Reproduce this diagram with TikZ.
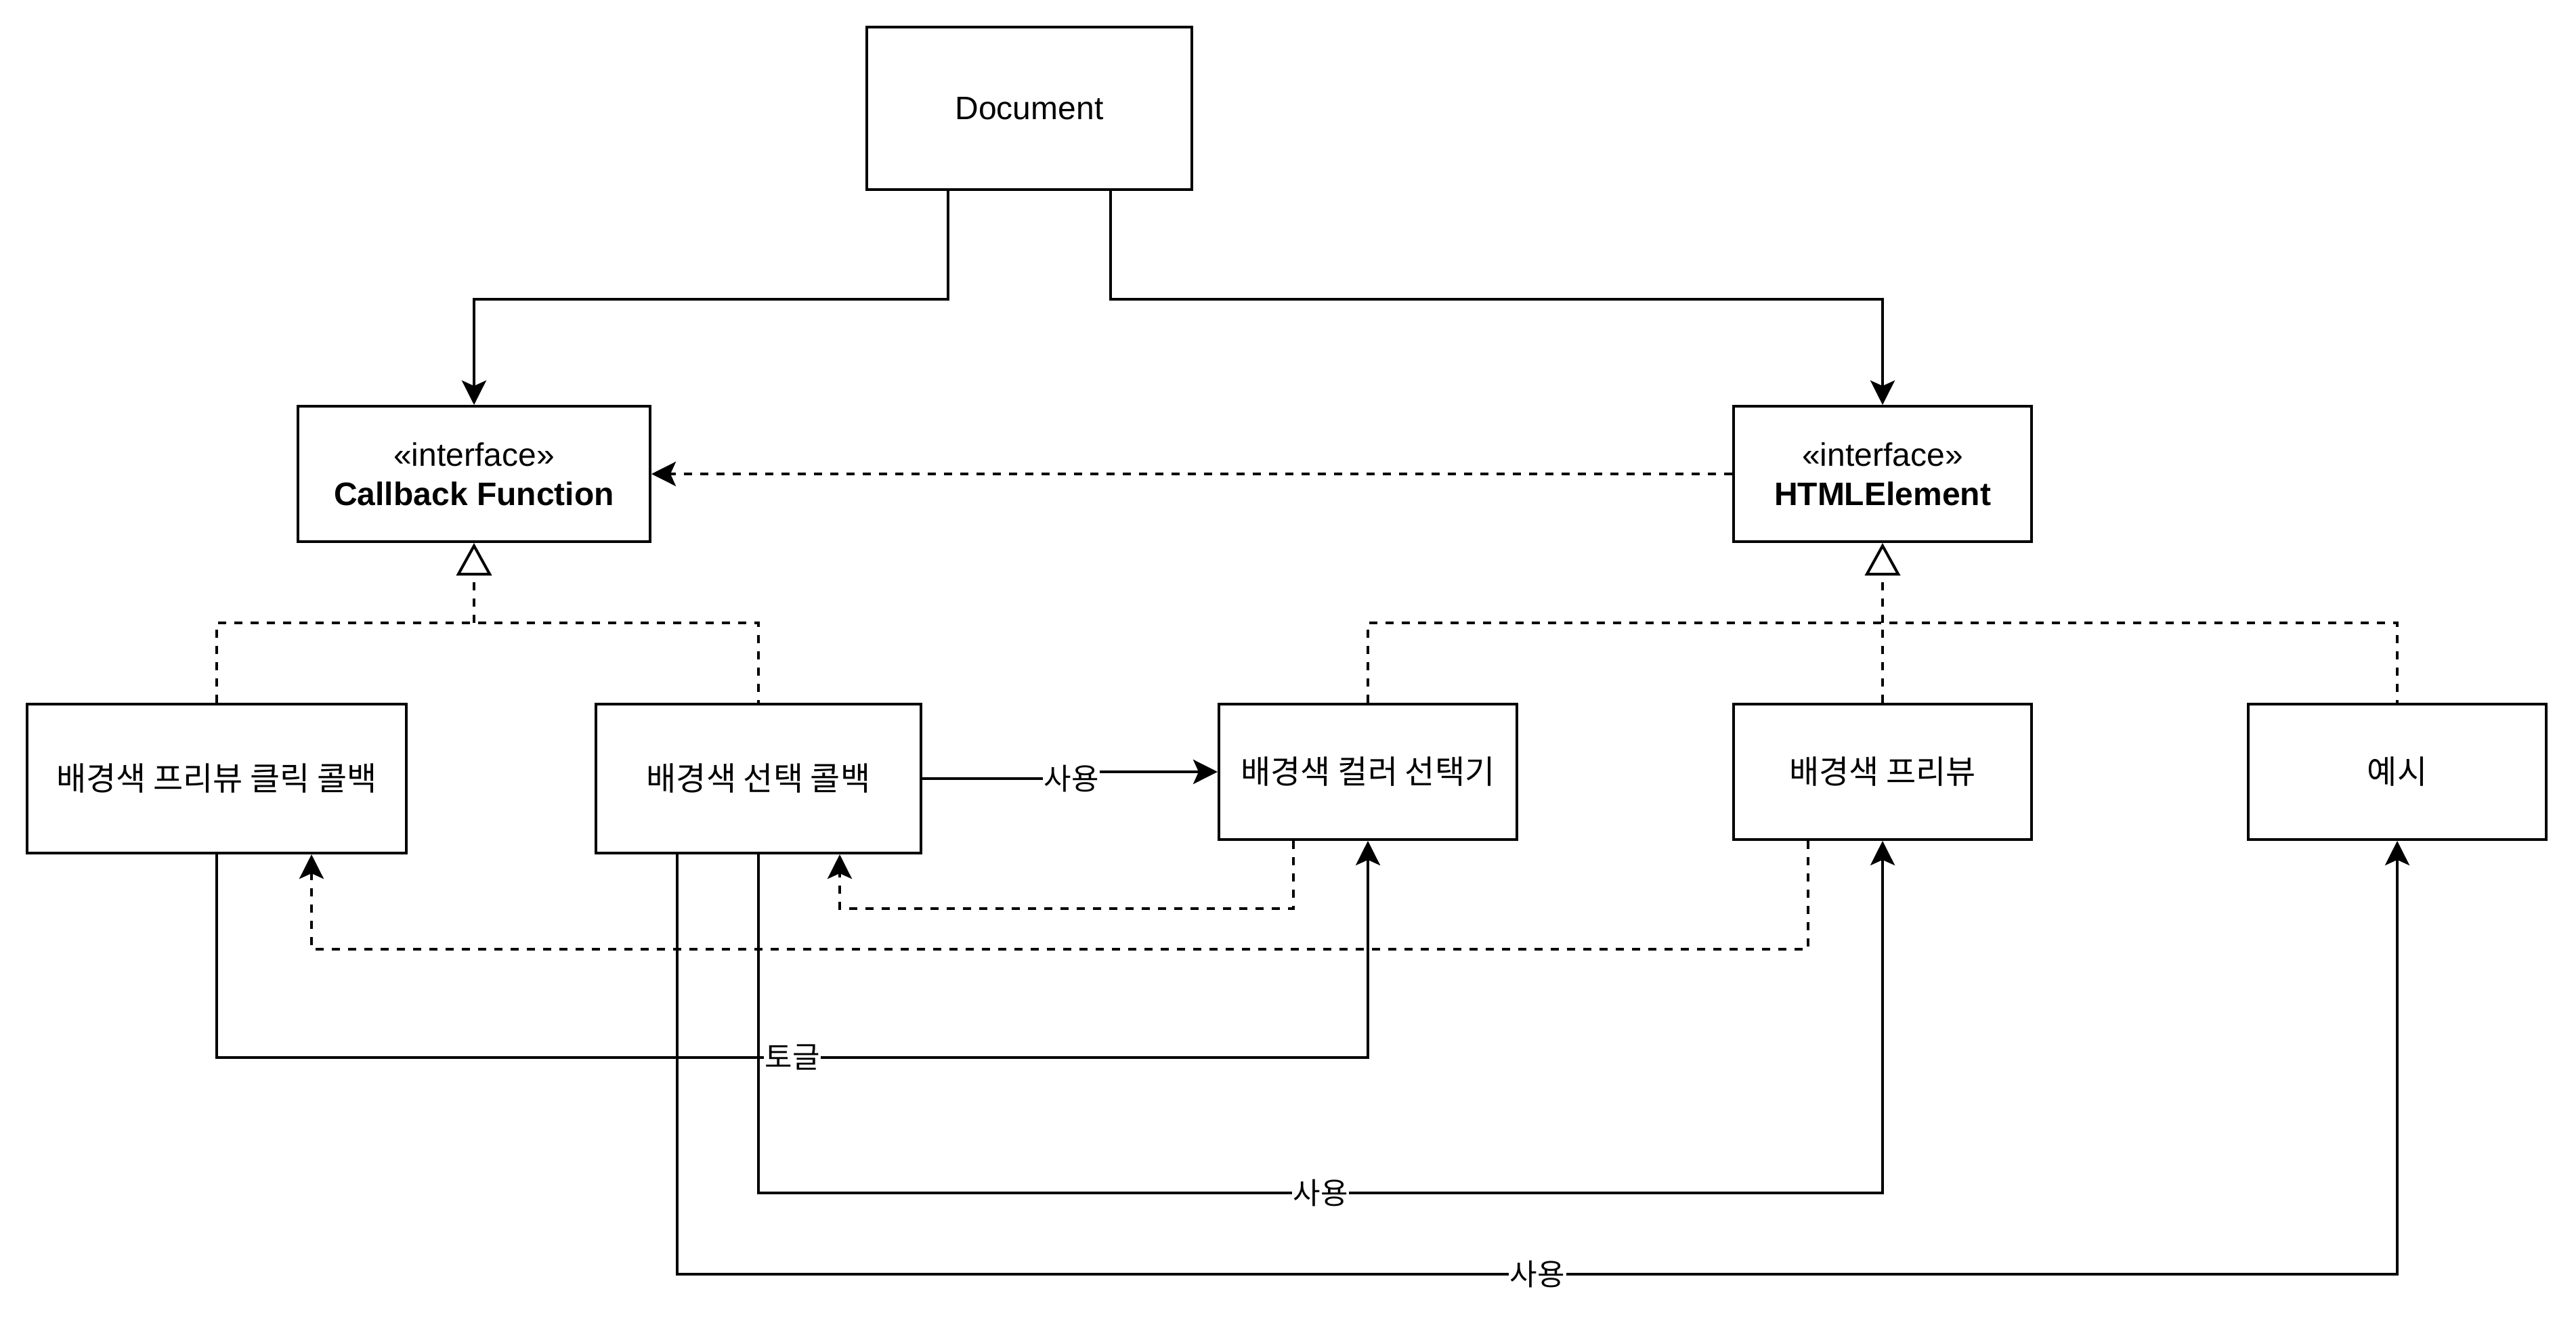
\documentclass[tikz,border=0pt]{standalone}
\usepackage{fontspec}
\setmainfont{Liberation Sans}
\newfontfamily\krfont{Noto Sans CJK KR}
\usetikzlibrary{arrows.meta}

\tikzset{
  umlbox/.style={draw, line width=1pt, inner sep=0pt, align=center,
    font=\fontsize{12pt}{14.5pt}\selectfont},
  krbox/.style={umlbox, font=\krfont\fontsize{12pt}{14.5pt}\selectfont},
  lbl/.style={fill=white, inner sep=0.5pt, font=\krfont\fontsize{11pt}{13pt}\selectfont},
  dep/.style={line width=1pt, dash pattern=on 3pt off 3pt},
  realize/.style={dep, -{Triangle[open, length=12pt, width=13pt, line width=1pt]}}
}

\begin{document}
\begin{tikzpicture}[x=1pt, y=-1pt, line width=1pt,
    >={Stealth[length=9pt, width=9pt, inset=2pt]}]

  \useasboundingbox (0,0) rectangle (951,490);

  % ==================== 상단: Document 와 인터페이스 ====================
  \node[umlbox, minimum width=120pt, minimum height=60pt] (doc) at (380,40) {Document};
  \node[umlbox, minimum width=130pt, minimum height=50pt] (cb) at (175,175)
    {«interface»\\\textbf{Callback Function}};
  \node[umlbox, minimum width=110pt, minimum height=50pt] (html) at (695,175)
    {«interface»\\\textbf{HTMLElement}};

  % ==================== 하단: 구현 클래스 ====================
  \node[krbox, minimum width=140pt, minimum height=55pt] (clickcb) at (80,287.5) {배경색 프리뷰 클릭 콜백};
  \node[krbox, minimum width=120pt, minimum height=55pt] (selcb) at (280,287.5) {배경색 선택 콜백};
  \node[krbox, minimum width=110pt, minimum height=50pt] (picker) at (505,285) {배경색 컬러 선택기};
  \node[krbox, minimum width=110pt, minimum height=50pt] (preview) at (695,285) {배경색 프리뷰};
  \node[krbox, minimum width=110pt, minimum height=50pt] (example) at (885,285) {예시};

  % 분기점
  \coordinate (cbjoin) at (175,230);
  \coordinate (htmljoin) at (695,230);

  % Document -> 인터페이스
  \draw[->] ([xshift=-30pt]doc.south) -- ++(0,40) -| (cb.north);
  \draw[->] ([xshift=30pt]doc.south) -- ++(0,40) -| (html.north);

  % 의존
  \draw[dep, ->] (html.west) -- (cb.east);

  % 구현 (실체화)
  \draw[dep] (clickcb.north) |- (cbjoin) -| (selcb.north);
  \draw[realize] (cbjoin) -- (cb.south);
  \draw[dep] (picker.north) |- (htmljoin) -| (example.north);
  \draw[dep] (preview.north) -- (htmljoin);
  \draw[realize] (htmljoin) -- (html.south);

  % 사용 관계
  \draw[->] (selcb.east) -- ++(55,0) node[lbl] {사용} |- (picker.west);
  \draw[dep, ->] ([xshift=-27.5pt]picker.south) -- ++(0,25) -| ([xshift=30pt]selcb.south);
  \draw[dep, ->] ([xshift=-27.5pt]preview.south) -- ++(0,40) -| ([xshift=35pt]clickcb.south);
  \draw[->] (clickcb.south) -- ++(0,75) -| node[lbl, pos=0.25] {토글} (picker.south);
  \draw[->] (selcb.south) -- ++(0,125) -| node[lbl, pos=0.25] {사용} (preview.south);
  \draw[->] ([xshift=-30pt]selcb.south) -- ++(0,155) -| node[lbl, pos=0.25] {사용} (example.south);

\end{tikzpicture}
\end{document}
